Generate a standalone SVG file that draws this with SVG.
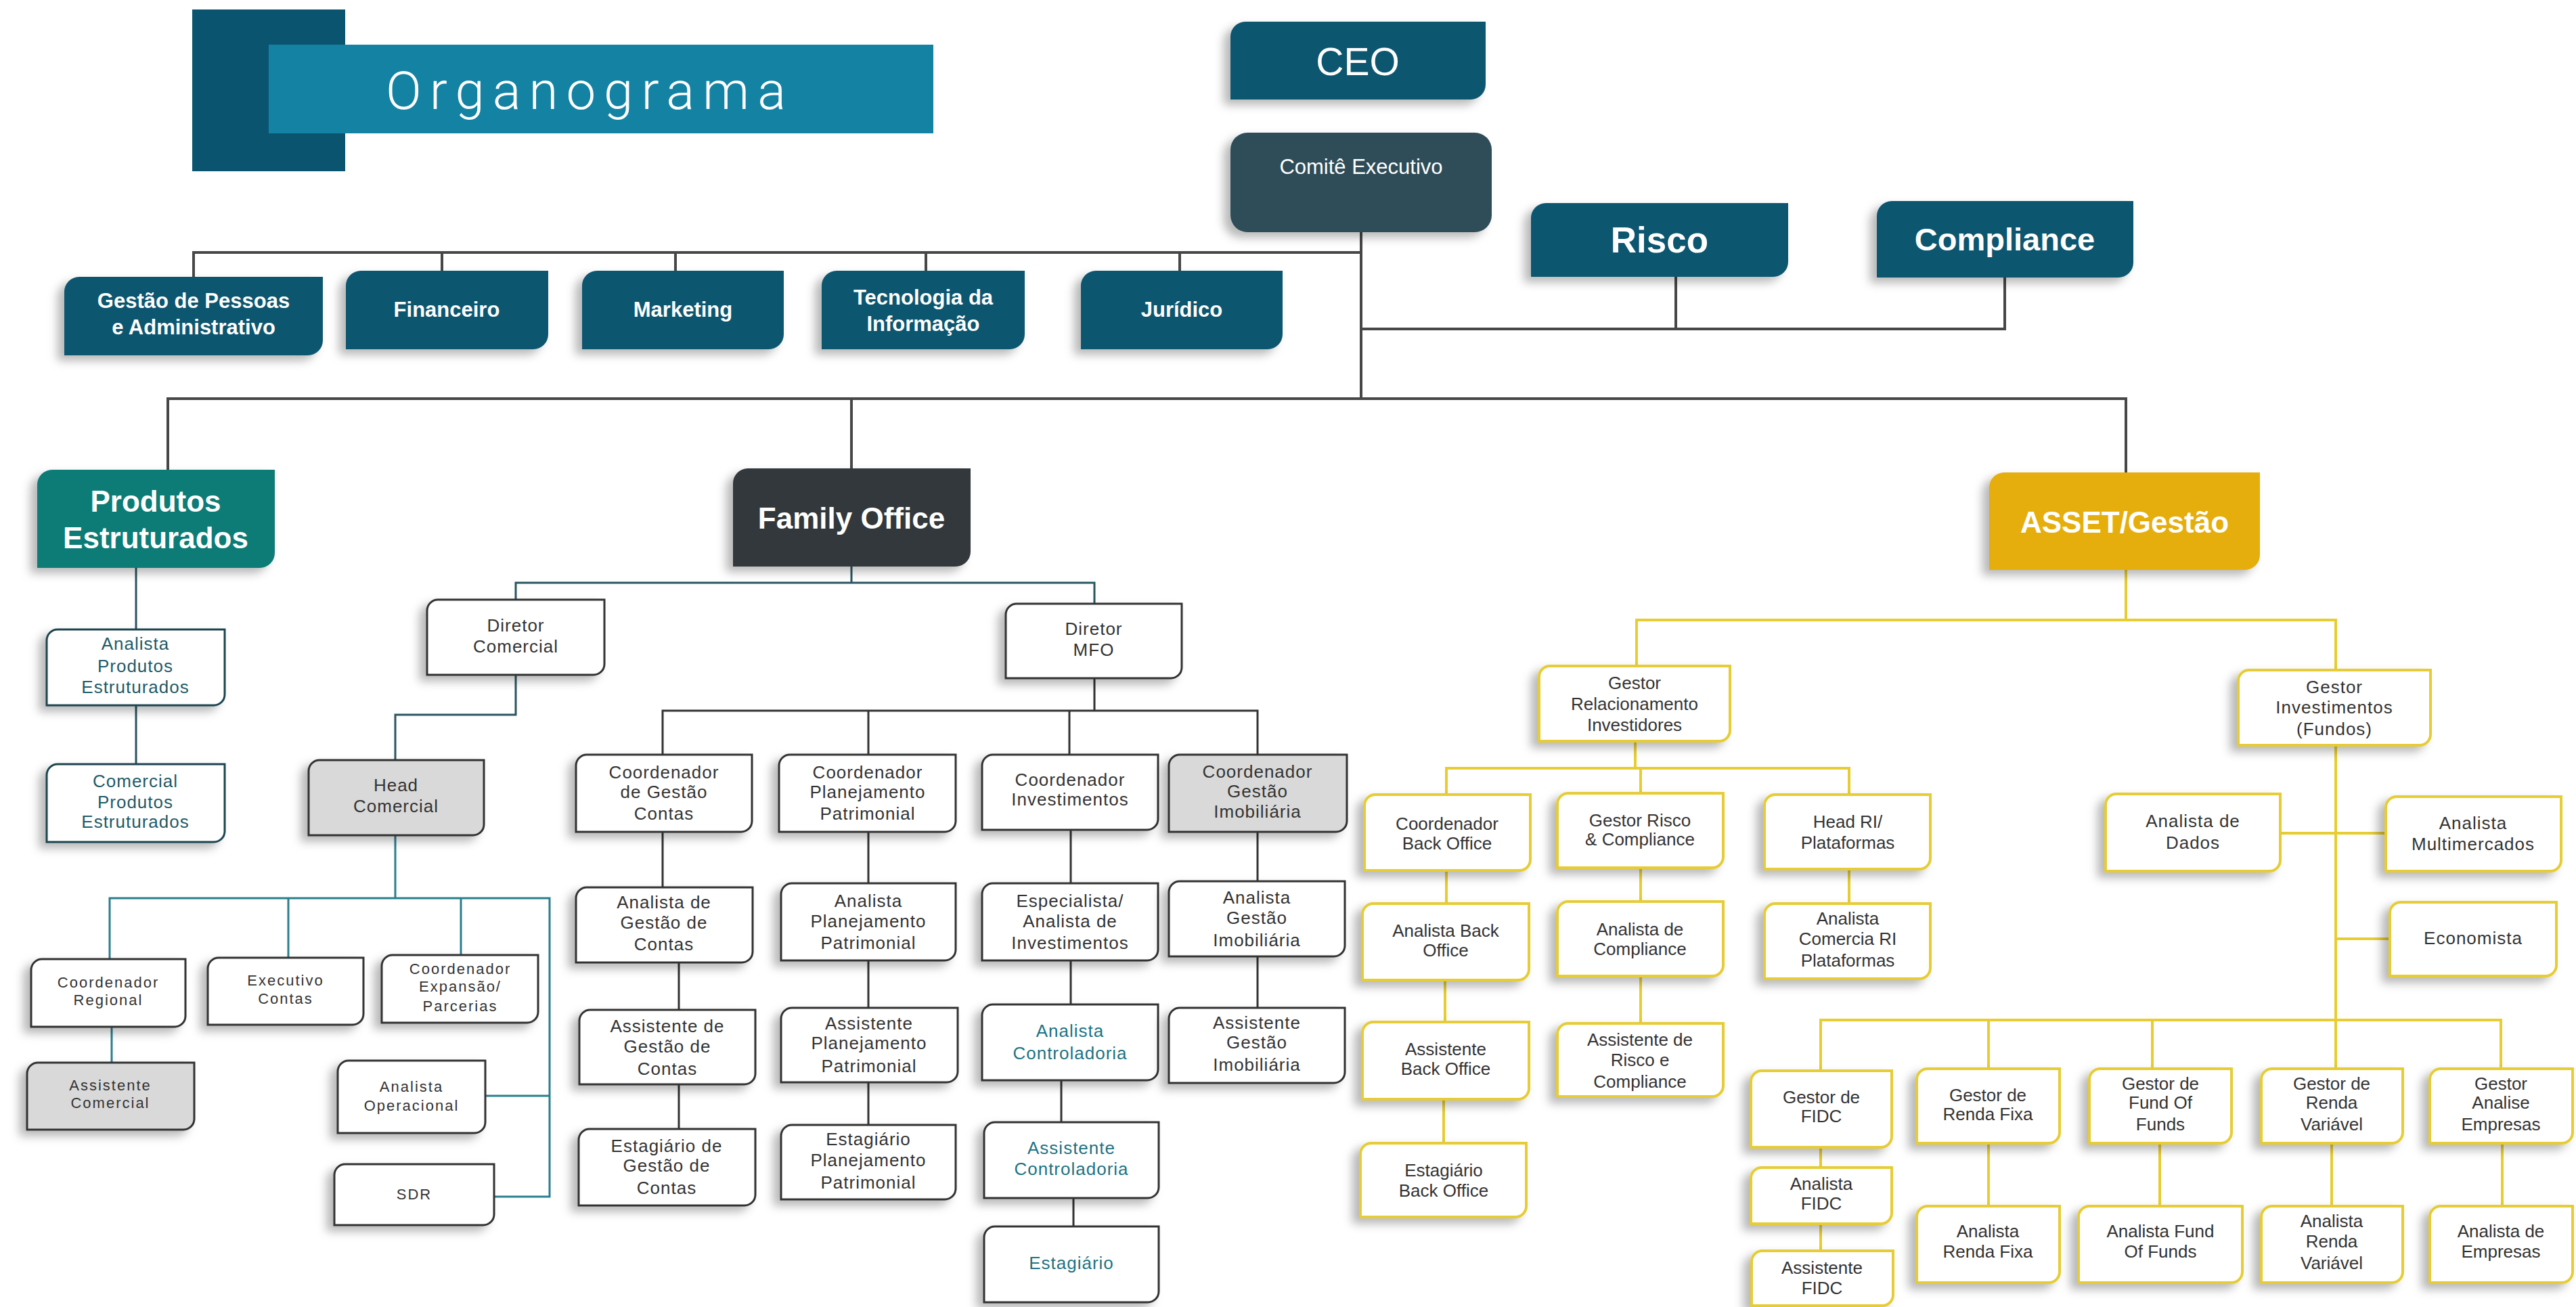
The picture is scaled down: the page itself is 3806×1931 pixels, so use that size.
<svg xmlns="http://www.w3.org/2000/svg" width="3806" height="1931" viewBox="0 0 3806 1931">
<defs>
<filter id="sh" x="-20%" y="-20%" width="140%" height="150%">
<feDropShadow dx="-10" dy="8" stdDeviation="7" flood-color="#000" flood-opacity="0.28"/>
</filter>
<style>
.big{fill:#0b5670;filter:url(#sh)}
.n{fill:#fff;stroke:#333;stroke-width:3;filter:url(#sh)}
.np{fill:#fff;stroke:#1d4550;stroke-width:3;filter:url(#sh)}
.g{fill:#d9d9d9;stroke:#333;stroke-width:3;filter:url(#sh)}
.y{fill:#fff;stroke:#e6cc35;stroke-width:4;filter:url(#sh)}
.wb{font-family:'Liberation Sans',Arial,sans-serif;font-weight:bold;fill:#fff;text-anchor:middle}
.wn{font-family:'Liberation Sans',Arial,sans-serif;font-weight:normal;fill:#fff;text-anchor:middle}
.t{font-family:'Liberation Sans',Arial,sans-serif;font-size:26px;letter-spacing:1px;fill:#333;text-anchor:middle}
.s{font-family:'Liberation Sans',Arial,sans-serif;font-size:22px;letter-spacing:2px;fill:#333;text-anchor:middle}
.tp{fill:#1f5a68}
.tc{fill:#1d7384}
.nl{letter-spacing:0}
.c{fill:none;stroke-linecap:square}
.c1{stroke:#474747;stroke-width:4}
.c2{stroke:#2a5560;stroke-width:3}
.c3{stroke:#2a7f8e;stroke-width:3}
.c4{stroke:#333;stroke-width:3}
.c5{stroke:#e7cd32;stroke-width:4}
</style>
</defs>
<rect width="3806" height="1931" fill="#fff"/>

<g id="title">
<rect x="284" y="14" width="226" height="239" fill="#0b5470"/>
<rect x="397" y="66" width="982" height="131" fill="#1483a3"/>
<text x="570" y="161" font-family="Roboto,'Liberation Sans',sans-serif" font-weight="300" font-size="78" fill="#fff" textLength="591" lengthAdjust="spacing">Organograma</text>
</g>

<g id="connectors">
<path class="c c1" d="M286,373 H2011 M286,373 V409 M653,373 V400 M998,373 V400 M1368,373 V400 M1743,373 V400 M2011,343 V589 M2011,486 H2962 M2476,409 V486 M2962,410 V486 M248,589 H3141 M248,589 V694 M1258,589 V692 M3141,589 V698"/>
<path class="c c2" d="M201,839 V930 M201,1042 V1129 M1258,837 V861 M762,861 H1617 M762,861 V886 M1617,861 V892 M762,997 V1056 H584 V1123"/>
<path class="c c3" d="M584,1234 V1327 M162,1327 H812 M162,1327 V1417 M426,1327 V1415 M681,1327 V1411 M812,1327 V1768 H730 M717,1619 H812 M165,1517 V1570"/>
<path class="c c4" d="M1617,1002 V1050 M979,1050 H1858 M979,1050 V1115 M1283,1050 V1115 M1580,1050 V1115 M1858,1050 V1115 M979,1229 V1311 M1003,1422 V1492 M1003,1602 V1668 M1283,1229 V1305 M1283,1419 V1489 M1283,1599 V1662 M1582,1226 V1305 M1582,1419 V1484 M1568,1596 V1658 M1586,1770 V1812 M1858,1229 V1302 M1858,1413 V1489"/>
<path class="c c5" d="M3141,842 V916 M2418,916 H3451 M2418,916 V984 M3451,916 V990 M2416,1095 V1135 M2137,1135 H2732 M2137,1135 V1174 M2424,1135 V1172 M2732,1135 V1174 M2137,1286 V1335 M2135,1448 V1510 M2133,1624 V1689 M2424,1282 V1332 M2424,1442 V1512 M2732,1284 V1335 M3451,1101 V1579 M3369,1231 H3525 M3451,1387 H3531 M2690,1507 H3695 M2690,1507 V1582 M2938,1507 V1579 M3180,1507 V1579 M3695,1507 V1579 M2690,1695 V1725 M2690,1808 V1848 M2938,1689 V1782 M3191,1689 V1782 M3445,1689 V1782 M3697,1689 V1782"/>
</g>

<g id="ceo"><path class="big" d="M1840,32 H2195 V125 A22,22 0 0 1 2173,147 H1818 V54 A22,22 0 0 1 1840,32 Z"/><text class="wn" x="2006" y="111" font-size="57">CEO</text></g>
<g id="comite"><rect x="1818" y="196" width="386" height="147" rx="25" fill="#2d4e58" filter="url(#sh)"/><text class="wn" x="2011" y="257" font-size="31">Comitê Executivo</text></g>
<g id="risco"><path class="big" d="M2284,300 H2642 V387 A22,22 0 0 1 2620,409 H2262 V322 A22,22 0 0 1 2284,300 Z"/><text class="wb" x="2452" y="373" font-size="53">Risco</text></g>
<g id="compliance"><path class="big" d="M2795,297 H3152 V388 A22,22 0 0 1 3130,410 H2773 V319 A22,22 0 0 1 2795,297 Z"/><text class="wb" x="2962" y="370" font-size="47">Compliance</text></g>

<g id="gestao-pessoas"><path class="big" d="M117,409 H477 V503 A22,22 0 0 1 455,525 H95 V431 A22,22 0 0 1 117,409 Z"/><text class="wb" font-size="31"><tspan x="286" y="455">Gestão de Pessoas</tspan><tspan x="286" y="494">e Administrativo</tspan></text></g>
<g id="financeiro"><path class="big" d="M533,400 H810 V494 A22,22 0 0 1 788,516 H511 V422 A22,22 0 0 1 533,400 Z"/><text class="wb" x="660" y="468" font-size="31">Financeiro</text></g>
<g id="marketing"><path class="big" d="M882,400 H1158 V494 A22,22 0 0 1 1136,516 H860 V422 A22,22 0 0 1 882,400 Z"/><text class="wb" x="1009" y="468" font-size="31">Marketing</text></g>
<g id="tecnologia"><path class="big" d="M1236,400 H1514 V494 A22,22 0 0 1 1492,516 H1214 V422 A22,22 0 0 1 1236,400 Z"/><text class="wb" font-size="31"><tspan x="1364" y="450">Tecnologia da</tspan><tspan x="1364" y="489">Informação</tspan></text></g>
<g id="juridico"><path class="big" d="M1619,400 H1895 V494 A22,22 0 0 1 1873,516 H1597 V422 A22,22 0 0 1 1619,400 Z"/><text class="wb" x="1746" y="468" font-size="31">Jurídico</text></g>

<g id="produtos"><path d="M77,694 H406 V817 A22,22 0 0 1 384,839 H55 V716 A22,22 0 0 1 77,694 Z" fill="#0b7b77" filter="url(#sh)"/><text class="wb" font-size="44"><tspan x="230" y="756">Produtos</tspan><tspan x="230" y="810">Estruturados</tspan></text></g>
<g id="family-office"><path d="M1105,692 H1434 V815 A22,22 0 0 1 1412,837 H1083 V714 A22,22 0 0 1 1105,692 Z" fill="#31373a" filter="url(#sh)"/><text class="wb" x="1258" y="781" font-size="44">Family Office</text></g>
<g id="asset"><path d="M2961,698 H3339 V820 A22,22 0 0 1 3317,842 H2939 V720 A22,22 0 0 1 2961,698 Z" fill="#e6ae10" filter="url(#sh)"/><text class="wb" x="3139" y="787" font-size="44">ASSET/Gestão</text></g>

<g id="analista-produtos"><path class="np" d="M85,930 H332 V1026 A16,16 0 0 1 316,1042 H69 V946 A16,16 0 0 1 85,930 Z"/><text class="t tp"><tspan x="200" y="960">Analista</tspan><tspan x="200" y="993">Produtos</tspan><tspan x="200" y="1024">Estruturados</tspan></text></g>
<g id="comercial-produtos"><path class="np" d="M85,1129 H332 V1228 A16,16 0 0 1 316,1244 H69 V1145 A16,16 0 0 1 85,1129 Z"/><text class="t tp"><tspan x="200" y="1163">Comercial</tspan><tspan x="200" y="1194">Produtos</tspan><tspan x="200" y="1223">Estruturados</tspan></text></g>

<g id="diretor-comercial"><path class="n" d="M647,886 H893 V981 A16,16 0 0 1 877,997 H631 V902 A16,16 0 0 1 647,886 Z"/><text class="t"><tspan x="762" y="933">Diretor</tspan><tspan x="762" y="964">Comercial</tspan></text></g>
<g id="diretor-mfo"><path class="n" d="M1502,892 H1746 V986 A16,16 0 0 1 1730,1002 H1486 V908 A16,16 0 0 1 1502,892 Z"/><text class="t"><tspan x="1616" y="938">Diretor</tspan><tspan x="1616" y="969">MFO</tspan></text></g>
<g id="head-comercial"><path class="g" d="M472,1123 H715 V1218 A16,16 0 0 1 699,1234 H456 V1139 A16,16 0 0 1 472,1123 Z"/><text class="t"><tspan x="585" y="1169">Head</tspan><tspan x="585" y="1200">Comercial</tspan></text></g>
<g id="coord-regional"><path class="n" d="M62,1417 H274 V1501 A16,16 0 0 1 258,1517 H46 V1433 A16,16 0 0 1 62,1417 Z"/><text class="s"><tspan x="160" y="1459">Coordenador</tspan><tspan x="160" y="1485">Regional</tspan></text></g>
<g id="assistente-comercial"><path class="g" d="M56,1570 H287 V1653 A16,16 0 0 1 271,1669 H40 V1586 A16,16 0 0 1 56,1570 Z"/><text class="s"><tspan x="163" y="1611">Assistente</tspan><tspan x="163" y="1637">Comercial</tspan></text></g>
<g id="executivo-contas"><path class="n" d="M323,1415 H537 V1498 A16,16 0 0 1 521,1514 H307 V1431 A16,16 0 0 1 323,1415 Z"/><text class="s"><tspan x="422" y="1456">Executivo</tspan><tspan x="422" y="1483">Contas</tspan></text></g>
<g id="coord-expansao"><path class="n" d="M580,1411 H795 V1495 A16,16 0 0 1 779,1511 H564 V1427 A16,16 0 0 1 580,1411 Z"/><text class="s"><tspan x="680" y="1439">Coordenador</tspan><tspan x="680" y="1465">Expansão/</tspan><tspan x="680" y="1494">Parcerias</tspan></text></g>
<g id="analista-operacional"><path class="n" d="M515,1567 H717 V1658 A16,16 0 0 1 701,1674 H499 V1583 A16,16 0 0 1 515,1567 Z"/><text class="s"><tspan x="608" y="1613">Analista</tspan><tspan x="608" y="1641">Operacional</tspan></text></g>
<g id="sdr"><path class="n" d="M510,1720 H730 V1794 A16,16 0 0 1 714,1810 H494 V1736 A16,16 0 0 1 510,1720 Z"/><text class="s" x="612" y="1772">SDR</text></g>

<g id="coord-gestao-contas"><path class="n" d="M867,1115 H1111 V1213 A16,16 0 0 1 1095,1229 H851 V1131 A16,16 0 0 1 867,1115 Z"/><text class="t"><tspan x="981" y="1150">Coordenador</tspan><tspan x="981" y="1179">de Gestão</tspan><tspan x="981" y="1211">Contas</tspan></text></g>
<g id="analista-gestao-contas"><path class="n" d="M867,1311 H1112 V1406 A16,16 0 0 1 1096,1422 H851 V1327 A16,16 0 0 1 867,1311 Z"/><text class="t"><tspan x="981" y="1342">Analista de</tspan><tspan x="981" y="1372">Gestão de</tspan><tspan x="981" y="1404">Contas</tspan></text></g>
<g id="assistente-gestao-contas"><path class="n" d="M872,1492 H1116 V1586 A16,16 0 0 1 1100,1602 H856 V1508 A16,16 0 0 1 872,1492 Z"/><text class="t"><tspan x="986" y="1525">Assistente de</tspan><tspan x="986" y="1555">Gestão de</tspan><tspan x="986" y="1588">Contas</tspan></text></g>
<g id="estagiario-gestao-contas"><path class="n" d="M871,1668 H1116 V1765 A16,16 0 0 1 1100,1781 H855 V1684 A16,16 0 0 1 871,1668 Z"/><text class="t"><tspan x="985" y="1702">Estagiário de</tspan><tspan x="985" y="1731">Gestão de</tspan><tspan x="985" y="1764">Contas</tspan></text></g>

<g id="coord-planejamento"><path class="n" d="M1167,1115 H1412 V1213 A16,16 0 0 1 1396,1229 H1151 V1131 A16,16 0 0 1 1167,1115 Z"/><text class="t"><tspan x="1282" y="1150">Coordenador</tspan><tspan x="1282" y="1179">Planejamento</tspan><tspan x="1282" y="1211">Patrimonial</tspan></text></g>
<g id="analista-planejamento"><path class="n" d="M1170,1305 H1412 V1403 A16,16 0 0 1 1396,1419 H1154 V1321 A16,16 0 0 1 1170,1305 Z"/><text class="t"><tspan x="1283" y="1340">Analista</tspan><tspan x="1283" y="1370">Planejamento</tspan><tspan x="1283" y="1402">Patrimonial</tspan></text></g>
<g id="assistente-planejamento"><path class="n" d="M1170,1489 H1415 V1583 A16,16 0 0 1 1399,1599 H1154 V1505 A16,16 0 0 1 1170,1489 Z"/><text class="t"><tspan x="1284" y="1521">Assistente</tspan><tspan x="1284" y="1550">Planejamento</tspan><tspan x="1284" y="1584">Patrimonial</tspan></text></g>
<g id="estagiario-planejamento"><path class="n" d="M1170,1662 H1412 V1756 A16,16 0 0 1 1396,1772 H1154 V1678 A16,16 0 0 1 1170,1662 Z"/><text class="t"><tspan x="1283" y="1692">Estagiário</tspan><tspan x="1283" y="1723">Planejamento</tspan><tspan x="1283" y="1756">Patrimonial</tspan></text></g>

<g id="coord-investimentos"><path class="n" d="M1467,1115 H1711 V1210 A16,16 0 0 1 1695,1226 H1451 V1131 A16,16 0 0 1 1467,1115 Z"/><text class="t"><tspan x="1581" y="1161">Coordenador</tspan><tspan x="1581" y="1190">Investimentos</tspan></text></g>
<g id="especialista-investimentos"><path class="n" d="M1467,1305 H1711 V1403 A16,16 0 0 1 1695,1419 H1451 V1321 A16,16 0 0 1 1467,1305 Z"/><text class="t"><tspan x="1581" y="1340">Especialista/</tspan><tspan x="1581" y="1370">Analista de</tspan><tspan x="1581" y="1402">Investimentos</tspan></text></g>
<g id="analista-controladoria"><path class="n" d="M1467,1484 H1711 V1580 A16,16 0 0 1 1695,1596 H1451 V1500 A16,16 0 0 1 1467,1484 Z"/><text class="t tc"><tspan x="1581" y="1532">Analista</tspan><tspan x="1581" y="1565">Controladoria</tspan></text></g>
<g id="assistente-controladoria"><path class="n" d="M1470,1658 H1712 V1754 A16,16 0 0 1 1696,1770 H1454 V1674 A16,16 0 0 1 1470,1658 Z"/><text class="t tc"><tspan x="1583" y="1705">Assistente</tspan><tspan x="1583" y="1736">Controladoria</tspan></text></g>
<g id="estagiario"><path class="n" d="M1470,1812 H1712 V1908 A16,16 0 0 1 1696,1924 H1454 V1828 A16,16 0 0 1 1470,1812 Z"/><text class="t tc" x="1583" y="1875">Estagiário</text></g>

<g id="coord-imobiliaria"><path class="g" d="M1743,1115 H1990 V1213 A16,16 0 0 1 1974,1229 H1727 V1131 A16,16 0 0 1 1743,1115 Z"/><text class="t"><tspan x="1858" y="1149">Coordenador</tspan><tspan x="1858" y="1178">Gestão</tspan><tspan x="1858" y="1208">Imobiliária</tspan></text></g>
<g id="analista-imobiliaria"><path class="n" d="M1743,1302 H1987 V1397 A16,16 0 0 1 1971,1413 H1727 V1318 A16,16 0 0 1 1743,1302 Z"/><text class="t"><tspan x="1857" y="1335">Analista</tspan><tspan x="1857" y="1365">Gestão</tspan><tspan x="1857" y="1398">Imobiliária</tspan></text></g>
<g id="assistente-imobiliaria"><path class="n" d="M1743,1489 H1987 V1584 A16,16 0 0 1 1971,1600 H1727 V1505 A16,16 0 0 1 1743,1489 Z"/><text class="t"><tspan x="1857" y="1520">Assistente</tspan><tspan x="1857" y="1549">Gestão</tspan><tspan x="1857" y="1582">Imobiliária</tspan></text></g>

<g id="gestor-ri"><path class="y" d="M2290,984 H2556 V1079 A16,16 0 0 1 2540,1095 H2274 V1000 A16,16 0 0 1 2290,984 Z"/><text class="t nl"><tspan x="2415" y="1018">Gestor</tspan><tspan x="2415" y="1049">Relacionamento</tspan><tspan x="2415" y="1080">Investidores</tspan></text></g>
<g id="coord-back-office"><path class="y" d="M2032,1174 H2261 V1270 A16,16 0 0 1 2245,1286 H2016 V1190 A16,16 0 0 1 2032,1174 Z"/><text class="t nl"><tspan x="2138" y="1226">Coordenador</tspan><tspan x="2138" y="1255">Back Office</tspan></text></g>
<g id="gestor-risco"><path class="y" d="M2317,1172 H2546 V1266 A16,16 0 0 1 2530,1282 H2301 V1188 A16,16 0 0 1 2317,1172 Z"/><text class="t nl"><tspan x="2423" y="1221">Gestor Risco</tspan><tspan x="2423" y="1249">&amp; Compliance</tspan></text></g>
<g id="head-ri"><path class="y" d="M2623,1174 H2852 V1268 A16,16 0 0 1 2836,1284 H2607 V1190 A16,16 0 0 1 2623,1174 Z"/><text class="t nl"><tspan x="2730" y="1223">Head RI/</tspan><tspan x="2730" y="1254">Plataformas</tspan></text></g>
<g id="analista-back-office"><path class="y" d="M2029,1335 H2259 V1432 A16,16 0 0 1 2243,1448 H2013 V1351 A16,16 0 0 1 2029,1335 Z"/><text class="t nl"><tspan x="2136" y="1384">Analista Back</tspan><tspan x="2136" y="1413">Office</tspan></text></g>
<g id="analista-compliance"><path class="y" d="M2317,1332 H2546 V1426 A16,16 0 0 1 2530,1442 H2301 V1348 A16,16 0 0 1 2317,1332 Z"/><text class="t nl"><tspan x="2423" y="1382">Analista de</tspan><tspan x="2423" y="1411">Compliance</tspan></text></g>
<g id="analista-comercial-ri"><path class="y" d="M2623,1335 H2852 V1430 A16,16 0 0 1 2836,1446 H2607 V1351 A16,16 0 0 1 2623,1335 Z"/><text class="t nl"><tspan x="2730" y="1366">Analista</tspan><tspan x="2730" y="1396">Comercia  RI</tspan><tspan x="2730" y="1428">Plataformas</tspan></text></g>
<g id="assistente-back-office"><path class="y" d="M2029,1510 H2259 V1608 A16,16 0 0 1 2243,1624 H2013 V1526 A16,16 0 0 1 2029,1510 Z"/><text class="t nl"><tspan x="2136" y="1559">Assistente</tspan><tspan x="2136" y="1588">Back Office</tspan></text></g>
<g id="assistente-risco"><path class="y" d="M2317,1512 H2546 V1604 A16,16 0 0 1 2530,1620 H2301 V1528 A16,16 0 0 1 2317,1512 Z"/><text class="t nl"><tspan x="2423" y="1545">Assistente de</tspan><tspan x="2423" y="1575">Risco e</tspan><tspan x="2423" y="1607">Compliance</tspan></text></g>
<g id="estagiario-back-office"><path class="y" d="M2026,1689 H2255 V1782 A16,16 0 0 1 2239,1798 H2010 V1705 A16,16 0 0 1 2026,1689 Z"/><text class="t nl"><tspan x="2133" y="1738">Estagiário</tspan><tspan x="2133" y="1768">Back Office</tspan></text></g>

<g id="gestor-investimentos"><path class="y" d="M3323,990 H3591 V1085 A16,16 0 0 1 3575,1101 H3307 V1006 A16,16 0 0 1 3323,990 Z"/><text class="t"><tspan x="3449" y="1024">Gestor</tspan><tspan x="3449" y="1054">Investimentos</tspan><tspan x="3449" y="1086">(Fundos)</tspan></text></g>
<g id="analista-dados"><path class="y" d="M3127,1173 H3369 V1271 A16,16 0 0 1 3353,1287 H3111 V1189 A16,16 0 0 1 3127,1173 Z"/><text class="t"><tspan x="3240" y="1222">Analista de</tspan><tspan x="3240" y="1254">Dados</tspan></text></g>
<g id="analista-multimercados"><path class="y" d="M3541,1177 H3784 V1271 A16,16 0 0 1 3768,1287 H3525 V1193 A16,16 0 0 1 3541,1177 Z"/><text class="t"><tspan x="3654" y="1225">Analista</tspan><tspan x="3654" y="1256">Multimercados</tspan></text></g>
<g id="economista"><path class="y" d="M3547,1333 H3777 V1426 A16,16 0 0 1 3761,1442 H3531 V1349 A16,16 0 0 1 3547,1333 Z"/><text class="t" x="3654" y="1395">Economista</text></g>

<g id="gestor-fidc"><path class="y" d="M2603,1582 H2795 V1679 A16,16 0 0 1 2779,1695 H2587 V1598 A16,16 0 0 1 2603,1582 Z"/><text class="t nl"><tspan x="2691" y="1630">Gestor de</tspan><tspan x="2691" y="1658">FIDC</tspan></text></g>
<g id="analista-fidc"><path class="y" d="M2603,1725 H2795 V1792 A16,16 0 0 1 2779,1808 H2587 V1741 A16,16 0 0 1 2603,1725 Z"/><text class="t nl"><tspan x="2691" y="1758">Analista</tspan><tspan x="2691" y="1787">FIDC</tspan></text></g>
<g id="assistente-fidc"><path class="y" d="M2604,1848 H2797 V1913 A16,16 0 0 1 2781,1929 H2588 V1864 A16,16 0 0 1 2604,1848 Z"/><text class="t nl"><tspan x="2692" y="1882">Assistente</tspan><tspan x="2692" y="1912">FIDC</tspan></text></g>
<g id="gestor-renda-fixa"><path class="y" d="M2848,1579 H3043 V1673 A16,16 0 0 1 3027,1689 H2832 V1595 A16,16 0 0 1 2848,1579 Z"/><text class="t nl"><tspan x="2937" y="1627">Gestor de</tspan><tspan x="2937" y="1655">Renda Fixa</tspan></text></g>
<g id="gestor-fof"><path class="y" d="M3103,1579 H3297 V1673 A16,16 0 0 1 3281,1689 H3087 V1595 A16,16 0 0 1 3103,1579 Z"/><text class="t nl"><tspan x="3192" y="1610">Gestor de</tspan><tspan x="3192" y="1638">Fund Of</tspan><tspan x="3192" y="1670">Funds</tspan></text></g>
<g id="gestor-renda-variavel"><path class="y" d="M3357,1579 H3550 V1673 A16,16 0 0 1 3534,1689 H3341 V1595 A16,16 0 0 1 3357,1579 Z"/><text class="t nl"><tspan x="3445" y="1610">Gestor de</tspan><tspan x="3445" y="1638">Renda</tspan><tspan x="3445" y="1670">Variável</tspan></text></g>
<g id="gestor-analise-empresas"><path class="y" d="M3606,1579 H3801 V1673 A16,16 0 0 1 3785,1689 H3590 V1595 A16,16 0 0 1 3606,1579 Z"/><text class="t nl"><tspan x="3695" y="1610">Gestor</tspan><tspan x="3695" y="1638">Analise</tspan><tspan x="3695" y="1670">Empresas</tspan></text></g>
<g id="analista-renda-fixa"><path class="y" d="M2848,1782 H3043 V1879 A16,16 0 0 1 3027,1895 H2832 V1798 A16,16 0 0 1 2848,1782 Z"/><text class="t nl"><tspan x="2937" y="1828">Analista</tspan><tspan x="2937" y="1858">Renda Fixa</tspan></text></g>
<g id="analista-fof"><path class="y" d="M3087,1782 H3313 V1879 A16,16 0 0 1 3297,1895 H3071 V1798 A16,16 0 0 1 3087,1782 Z"/><text class="t nl"><tspan x="3192" y="1828">Analista Fund</tspan><tspan x="3192" y="1858">Of Funds</tspan></text></g>
<g id="analista-renda-variavel"><path class="y" d="M3357,1782 H3550 V1879 A16,16 0 0 1 3534,1895 H3341 V1798 A16,16 0 0 1 3357,1782 Z"/><text class="t nl"><tspan x="3445" y="1813">Analista</tspan><tspan x="3445" y="1843">Renda</tspan><tspan x="3445" y="1875">Variável</tspan></text></g>
<g id="analista-empresas"><path class="y" d="M3606,1782 H3801 V1879 A16,16 0 0 1 3785,1895 H3590 V1798 A16,16 0 0 1 3606,1782 Z"/><text class="t nl"><tspan x="3695" y="1828">Analista de</tspan><tspan x="3695" y="1858">Empresas</tspan></text></g>
</svg>
